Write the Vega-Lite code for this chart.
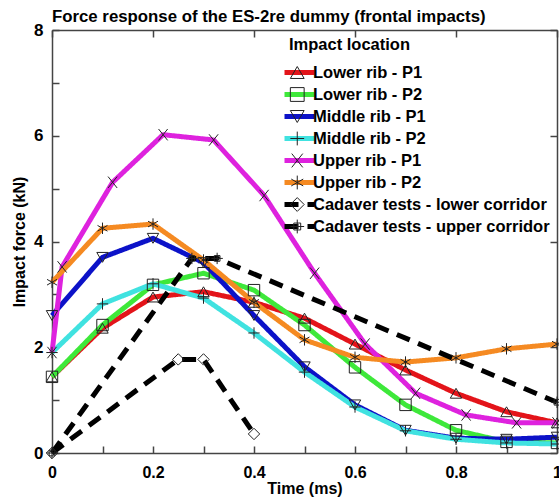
{
  "$schema": "https://vega.github.io/schema/vega-lite/v6.json",
  "width": 505,
  "height": 423,
  "autosize": {"type": "none"},
  "padding": {"left": 52, "top": 30, "right": 2, "bottom": 50},
  "background": "white",
  "config": {
    "view": {"stroke": null},
    "font": "Liberation Sans"
  },
  "title": {
    "text": "Force response of the ES-2re dummy (frontal impacts)",
    "anchor": "start",
    "frame": "group",
    "font": "Liberation Sans",
    "fontSize": 16.8,
    "fontWeight": "bold",
    "color": "black",
    "offset": -5
  },
  "data": {
    "values": [
      {"series": "Lower rib - P1", "time": 0.0, "force": 1.44},
      {"series": "Lower rib - P1", "time": 0.1, "force": 2.36},
      {"series": "Lower rib - P1", "time": 0.2, "force": 2.95},
      {"series": "Lower rib - P1", "time": 0.3, "force": 3.05},
      {"series": "Lower rib - P1", "time": 0.4, "force": 2.85},
      {"series": "Lower rib - P1", "time": 0.5, "force": 2.55},
      {"series": "Lower rib - P1", "time": 0.6, "force": 2.06},
      {"series": "Lower rib - P1", "time": 0.7, "force": 1.57},
      {"series": "Lower rib - P1", "time": 0.8, "force": 1.13},
      {"series": "Lower rib - P1", "time": 0.9, "force": 0.78},
      {"series": "Lower rib - P1", "time": 1.0, "force": 0.57},
      {"series": "Lower rib - P2", "time": 0.0, "force": 1.44},
      {"series": "Lower rib - P2", "time": 0.1, "force": 2.42},
      {"series": "Lower rib - P2", "time": 0.2, "force": 3.18},
      {"series": "Lower rib - P2", "time": 0.3, "force": 3.4},
      {"series": "Lower rib - P2", "time": 0.4, "force": 3.08},
      {"series": "Lower rib - P2", "time": 0.5, "force": 2.42},
      {"series": "Lower rib - P2", "time": 0.6, "force": 1.62},
      {"series": "Lower rib - P2", "time": 0.7, "force": 0.91},
      {"series": "Lower rib - P2", "time": 0.8, "force": 0.43},
      {"series": "Lower rib - P2", "time": 0.9, "force": 0.21},
      {"series": "Lower rib - P2", "time": 1.0, "force": 0.19},
      {"series": "Middle rib - P1", "time": 0.0, "force": 2.6},
      {"series": "Middle rib - P1", "time": 0.1, "force": 3.7},
      {"series": "Middle rib - P1", "time": 0.2, "force": 4.06},
      {"series": "Middle rib - P1", "time": 0.3, "force": 3.6},
      {"series": "Middle rib - P1", "time": 0.4, "force": 2.6},
      {"series": "Middle rib - P1", "time": 0.5, "force": 1.63},
      {"series": "Middle rib - P1", "time": 0.6, "force": 0.91},
      {"series": "Middle rib - P1", "time": 0.7, "force": 0.43},
      {"series": "Middle rib - P1", "time": 0.8, "force": 0.28},
      {"series": "Middle rib - P1", "time": 0.9, "force": 0.26},
      {"series": "Middle rib - P1", "time": 1.0, "force": 0.3},
      {"series": "Middle rib - P2", "time": 0.0, "force": 1.9},
      {"series": "Middle rib - P2", "time": 0.1, "force": 2.82},
      {"series": "Middle rib - P2", "time": 0.2, "force": 3.2},
      {"series": "Middle rib - P2", "time": 0.3, "force": 2.93},
      {"series": "Middle rib - P2", "time": 0.4, "force": 2.27},
      {"series": "Middle rib - P2", "time": 0.5, "force": 1.53},
      {"series": "Middle rib - P2", "time": 0.6, "force": 0.87},
      {"series": "Middle rib - P2", "time": 0.7, "force": 0.42},
      {"series": "Middle rib - P2", "time": 0.8, "force": 0.26},
      {"series": "Middle rib - P2", "time": 0.9, "force": 0.19},
      {"series": "Middle rib - P2", "time": 1.0, "force": 0.17},
      {"series": "Upper rib - P1", "time": 0.0, "force": 1.9},
      {"series": "Upper rib - P1", "time": 0.02, "force": 3.52},
      {"series": "Upper rib - P1", "time": 0.12, "force": 5.12},
      {"series": "Upper rib - P1", "time": 0.22, "force": 6.02},
      {"series": "Upper rib - P1", "time": 0.32, "force": 5.92},
      {"series": "Upper rib - P1", "time": 0.42, "force": 4.87},
      {"series": "Upper rib - P1", "time": 0.52, "force": 3.4},
      {"series": "Upper rib - P1", "time": 0.62, "force": 2.06},
      {"series": "Upper rib - P1", "time": 0.72, "force": 1.13},
      {"series": "Upper rib - P1", "time": 0.82, "force": 0.72},
      {"series": "Upper rib - P1", "time": 0.92, "force": 0.57},
      {"series": "Upper rib - P1", "time": 1.0, "force": 0.57},
      {"series": "Upper rib - P2", "time": 0.0, "force": 3.23},
      {"series": "Upper rib - P2", "time": 0.1, "force": 4.25},
      {"series": "Upper rib - P2", "time": 0.2, "force": 4.33},
      {"series": "Upper rib - P2", "time": 0.3, "force": 3.65},
      {"series": "Upper rib - P2", "time": 0.4, "force": 2.85},
      {"series": "Upper rib - P2", "time": 0.5, "force": 2.14},
      {"series": "Upper rib - P2", "time": 0.6, "force": 1.81},
      {"series": "Upper rib - P2", "time": 0.7, "force": 1.72},
      {"series": "Upper rib - P2", "time": 0.8, "force": 1.8},
      {"series": "Upper rib - P2", "time": 0.9, "force": 1.97},
      {"series": "Upper rib - P2", "time": 1.0, "force": 2.06},
      {"series": "Cadaver tests - lower corridor", "time": 0.0, "force": 0.0},
      {"series": "Cadaver tests - lower corridor", "time": 0.25, "force": 1.77},
      {"series": "Cadaver tests - lower corridor", "time": 0.3, "force": 1.77},
      {"series": "Cadaver tests - lower corridor", "time": 0.4, "force": 0.36},
      {"series": "Cadaver tests - upper corridor", "time": 0.0, "force": 0.0},
      {"series": "Cadaver tests - upper corridor", "time": 0.277, "force": 3.68},
      {"series": "Cadaver tests - upper corridor", "time": 0.327, "force": 3.68},
      {"series": "Cadaver tests - upper corridor", "time": 1.0, "force": 0.96}
    ]
  },
  "layer": [
    {
      "mark": {"type": "line", "strokeWidth": 5, "strokeCap": "butt", "strokeJoin": "round"},
      "encoding": {
        "x": {
          "field": "time", "type": "quantitative",
          "scale": {"domain": [0, 1], "nice": false},
          "axis": {
            "orient": "bottom",
            "title": "Time (ms)",
            "values": [0, 0.1, 0.2, 0.3, 0.4, 0.5, 0.6, 0.7, 0.8, 0.9, 1],
            "labelExpr": "round(datum.value * 10) % 2 == 0 ? format(datum.value, '~g') : ''",
            "grid": false,
            "tickSize": -7,
            "tickColor": "#444",
            "tickWidth": 1.5,
            "domainColor": "#444",
            "domainWidth": 1.5,
            "labelFont": "Liberation Sans",
            "labelFontSize": 16,
            "labelFontWeight": "bold",
            "labelColor": "black",
            "labelPadding": 18,
            "labelFlush": false,
            "titleFont": "Liberation Sans",
            "titleFontSize": 16,
            "titleFontWeight": "bold",
            "titleColor": "black",
            "titlePadding": 0
          }
        },
        "y": {
          "field": "force", "type": "quantitative",
          "scale": {"domain": [0, 8], "nice": false},
          "axis": {
            "orient": "left",
            "title": "Impact force (kN)",
            "values": [0, 1, 2, 3, 4, 5, 6, 7, 8],
            "labelExpr": "datum.value % 2 == 0 ? datum.label : ''",
            "grid": false,
            "tickSize": -7,
            "tickColor": "#444",
            "tickWidth": 1.5,
            "domainColor": "#444",
            "domainWidth": 1.5,
            "labelFont": "Liberation Sans",
            "labelFontSize": 17,
            "labelFontWeight": "bold",
            "labelColor": "black",
            "labelPadding": 16,
            "labelFlush": false,
            "titleFont": "Liberation Sans",
            "titleFontSize": 16,
            "titleFontWeight": "bold",
            "titleColor": "black",
            "titlePadding": 6
          }
        },
        "color": {
          "field": "series", "type": "nominal",
          "scale": {
            "domain": ["Lower rib - P1", "Lower rib - P2", "Middle rib - P1", "Middle rib - P2", "Upper rib - P1", "Upper rib - P2", "Cadaver tests - lower corridor", "Cadaver tests - upper corridor"],
            "range": ["#e3141a", "#3ee83a", "#0c12c8", "#40e2e0", "#de22de", "#f58a22", "#000000", "#000000"]
          },
          "legend": {
            "orient": "none", "legendX": 230, "legendY": 7,
            "title": " ",
            "titleFont": "Liberation Sans", "titleFontSize": 16.5, "titleFontWeight": "bold", "titlePadding": 8,
            "symbolType": "stroke", "symbolSize": 900, "symbolStrokeWidth": 5,
            "labelFont": "Liberation Sans", "labelFontSize": 16.5, "labelFontWeight": "bold", "labelColor": "black", "labelOffset": -4, "labelLimit": 400,
            "clipHeight": 22, "rowPadding": 0, "padding": 0
          }
        },
        "strokeDash": {
          "field": "series", "type": "nominal",
          "scale": {
            "domain": ["Lower rib - P1", "Lower rib - P2", "Middle rib - P1", "Middle rib - P2", "Upper rib - P1", "Upper rib - P2", "Cadaver tests - lower corridor", "Cadaver tests - upper corridor"],
            "range": [[1, 0], [1, 0], [1, 0], [1, 0], [1, 0], [1, 0], [14, 9], [14, 9]]
          },
          "legend": {
            "orient": "none", "legendX": 230, "legendY": 7,
            "title": " ",
            "titleFont": "Liberation Sans", "titleFontSize": 16.5, "titleFontWeight": "bold", "titlePadding": 8,
            "symbolType": "stroke", "symbolSize": 900, "symbolStrokeWidth": 5,
            "labelFont": "Liberation Sans", "labelFontSize": 16.5, "labelFontWeight": "bold", "labelColor": "black", "labelOffset": -4, "labelLimit": 400,
            "clipHeight": 22, "rowPadding": 0, "padding": 0
          }
        }
      }
    },
    {
      "mark": {"type": "point", "filled": false, "color": "#222", "strokeWidth": 1, "size": 130, "opacity": 1},
      "encoding": {
        "x": {
          "field": "time", "type": "quantitative",
          "axis": {
            "orient": "top", "title": null, "labels": false,
            "values": [0, 0.2, 0.4, 0.6, 0.8, 1],
            "grid": false, "tickSize": -7, "tickColor": "#444", "tickWidth": 1.5,
            "domainColor": "#444", "domainWidth": 1.5
          }
        },
        "y": {
          "field": "force", "type": "quantitative",
          "axis": {
            "orient": "right", "title": null, "labels": false,
            "values": [0, 2, 4, 6, 8],
            "grid": false, "tickSize": -7, "tickColor": "#444", "tickWidth": 1.5,
            "domainColor": "#444", "domainWidth": 1.5
          }
        },
        "shape": {
          "field": "series", "type": "nominal", "sort": null,
          "scale": {
            "range": [
              "triangle-up",
              "square",
              "triangle-down",
              "M-1,0H1M0,-1V1",
              "M-0.8,-1L0.8,1M-0.8,1L0.8,-1",
              "M0,-1V1M-0.87,-0.5L0.87,0.5M-0.87,0.5L0.87,-0.5",
              "diamond",
              "M-1,0H1M0,-1V1M-0.5,-0.5H0.5V0.5H-0.5Z"
            ]
          },
          "legend": {
            "orient": "none", "legendX": 237, "legendY": 7,
            "title": "Impact location", "titleColor": "black",
            "titleFont": "Liberation Sans", "titleFontSize": 16.5, "titleFontWeight": "bold", "titlePadding": 8,
            "symbolSize": 190, "symbolStrokeColor": "#222", "symbolFillColor": "transparent", "symbolStrokeWidth": 1,
            "labelExpr": "''", "labelFontSize": 16.5,
            "clipHeight": 22, "rowPadding": 0, "padding": 0
          }
        }
      }
    }
  ],
  "resolve": {"axis": {"x": "independent", "y": "independent"}}
}
